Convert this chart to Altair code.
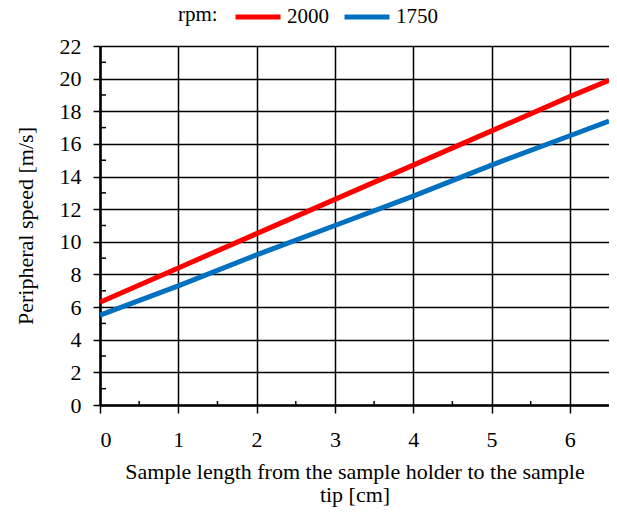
import altair as alt
import pandas as pd

x_cm = [0, 1, 2, 3, 4, 5, 6, 6.5]
v_2000 = [6.3, 8.4, 10.5, 12.6, 14.7, 16.8, 18.9, 19.9]
v_1750 = [5.5, 7.3, 9.2, 11.0, 12.8, 14.7, 16.5, 17.4]
series = ["2000", "1750"]
colors = ["#FF0000", "#0070C0"]
x_minor = [0.5, 1.5, 2.5, 3.5, 4.5, 5.5]
y_minor = [1, 3, 5, 7, 9, 11, 13, 15, 17, 19, 21]
x_major = [0, 1, 2, 3, 4, 5, 6]
y_major = [0, 2, 4, 6, 8, 10, 12, 14, 16, 18, 20, 22]
legend_title = ["rpm:"]
x_title = ["Sample length from the sample holder to the sample", "tip [cm]"]
y_title = "Peripheral speed [m/s]"

rows = []
for s, vals in zip(series, [v_2000, v_1750]):
    for xv, yv in zip(x_cm, vals):
        rows.append({"x": xv, "v": yv, "rpm": s})
df = pd.DataFrame(rows)

W, H = 509, 359
FONT = "Liberation Serif"
FS = 22
LFS = 21

xscale = alt.Scale(domain=[0, 6.5], nice=False, zero=False)
yscale = alt.Scale(domain=[0, 22], nice=False)

xaxis = alt.Axis(title=x_title, values=x_major, format="d", labelOverlap=False,
                 tickSize=8, labelPadding=16, titlePadding=11,
                 grid=True, gridColor="black", gridWidth=1.5, gridOpacity=1,
                 domainColor="black", domainWidth=2.5, tickColor="black", tickWidth=1.5,
                 labelFont=FONT, labelFontSize=FS, labelColor="black",
                 titleFont=FONT, titleFontSize=FS, titleFontWeight="normal",
                 titleColor="black", titleLineHeight=23)
yaxis = alt.Axis(title=y_title, values=y_major, labelOverlap=False,
                 tickSize=7, labelPadding=12, titlePadding=22,
                 grid=True, gridColor="black", gridWidth=1.5, gridOpacity=1,
                 domainColor="black", domainWidth=2.5, tickColor="black", tickWidth=1.5,
                 labelFont=FONT, labelFontSize=FS, labelColor="black",
                 titleFont=FONT, titleFontSize=FS, titleFontWeight="normal",
                 titleColor="black")

lines = alt.Chart(df).mark_line(strokeWidth=5, strokeCap="butt", clip=True).encode(
    x=alt.X("x:Q", scale=xscale, axis=xaxis),
    y=alt.Y("v:Q", scale=yscale, axis=yaxis),
    color=alt.Color("rpm:N", scale=alt.Scale(domain=series, range=colors),
                    sort=series,
                    legend=alt.Legend(title=None, orient="none", legendX=133, legendY=-54,
                                      direction="horizontal",
                                      symbolType="stroke", symbolStrokeWidth=5, symbolSize=2025,
                                      labelFont=FONT, labelFontSize=LFS, labelColor="black",
                                      labelOffset=4, columnPadding=5)),
)

xminor_df = pd.DataFrame({"x": x_minor})
xminor = alt.Chart(xminor_df).mark_rule(color="black", strokeWidth=1.5).encode(
    x=alt.X("x:Q", scale=xscale, axis=xaxis),
    y=alt.value(H),
    y2=alt.value(H - 4),
)

yminor_df = pd.DataFrame({"v": y_minor})
yminor = alt.Chart(yminor_df).mark_rule(color="black", strokeWidth=1.5).encode(
    y=alt.Y("v:Q", scale=yscale, axis=yaxis),
    x=alt.value(0),
    x2=alt.value(6),
)

title_df = pd.DataFrame({"t": legend_title})
rpm_text = alt.Chart(title_df).mark_text(
    font=FONT, fontSize=LFS, color="black", align="left", baseline="middle"
).encode(text="t:N", x=alt.value(78), y=alt.value(-31))

chart = alt.layer(lines, xminor, yminor, rpm_text).properties(
    width=W, height=H,
    autosize=alt.AutoSizeParams(type="none"),
    padding={"left": 92, "top": 38, "right": 0, "bottom": 104},
).configure_view(stroke="black", strokeWidth=1.5).configure(background="white")

chart.save("out.html", embed_options={"renderer": "svg", "actions": False})
